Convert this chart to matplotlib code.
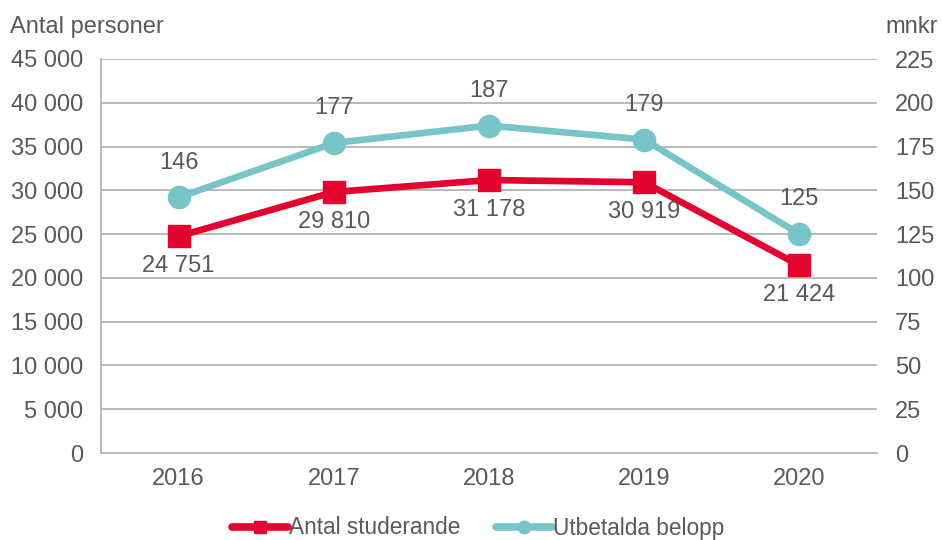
import matplotlib
matplotlib.use("Agg")
import matplotlib.pyplot as plt
from matplotlib.lines import Line2D

plt.rcParams['font.family'] = ['Liberation Sans', 'DejaVu Sans']

years = ["2016", "2017", "2018", "2019", "2020"]
studerande = [24751, 29810, 31178, 30919, 21424]
belopp = [146, 177, 187, 179, 125]
left_ticks = [0, 5000, 10000, 15000, 20000, 25000, 30000, 35000, 40000, 45000]
right_ticks = [0, 25, 50, 75, 100, 125, 150, 175, 200, 225]

RED = "#E4032E"
CYAN = "#77C5C9"
TXT = "#595959"
GRID = "#B4B4B4"
FS = 17

def fmt(v):
    return f"{v:,}".replace(",", " ")

fig = plt.figure(figsize=(9.42, 5.40), dpi=100)
ax = fig.add_axes([101/942, 1-453/540, (877-101)/942, (453-59)/540])
ax2 = ax.twinx()

x = list(range(len(years)))
ax.set_xlim(-0.5, len(years)-0.5)
ax.set_ylim(0, 45000)
ax2.set_ylim(0, 225)

ax.set_yticks(left_ticks)
ax.set_yticklabels([fmt(v) for v in left_ticks])
ax2.set_yticks(right_ticks)
ax2.set_yticklabels([str(v) for v in right_ticks])
ax.set_xticks(x)
ax.set_xticklabels(years)

ax.grid(axis='y', color=GRID, linewidth=1.3)
ax.set_axisbelow(True)
for a in (ax, ax2):
    for s in ['top', 'right']:
        a.spines[s].set_visible(False)
ax2.spines['left'].set_visible(False)
ax2.spines['bottom'].set_visible(False)
ax.spines['left'].set_color(GRID)
ax.spines['bottom'].set_color(GRID)
ax.spines['left'].set_linewidth(1.3)
ax.spines['bottom'].set_linewidth(1.3)

ax.tick_params(axis='y', length=0, pad=13, labelsize=FS, labelcolor=TXT)
ax.tick_params(axis='x', length=0, pad=11, labelsize=FS, labelcolor=TXT)
ax2.tick_params(axis='y', length=0, pad=13, labelsize=FS, labelcolor=TXT)

ax2.plot(x, [v/200 for v in studerande], color=RED, linewidth=4.8,
         marker='s', markersize=16.5, solid_capstyle='round', zorder=3)
ax2.plot(x, belopp, color=CYAN, linewidth=4.8, marker='o', markersize=16,
         solid_capstyle='round', zorder=4)

for xi, v in zip(x, studerande):
    ax2.annotate(fmt(v), (xi, v/200), xytext=(0, -21.5), textcoords='offset points',
                 ha='center', va='center', fontsize=FS, color=TXT)
for xi, v in zip(x, belopp):
    ax2.annotate(str(v), (xi, v), xytext=(0, 25), textcoords='offset points',
                 ha='center', va='center', fontsize=FS, color=TXT)

fig.text(10/942, 1-27/540, "Antal personer", ha='left', va='center', fontsize=FS, color=TXT)
fig.text(938/942, 1-27/540, "mnkr", ha='right', va='center', fontsize=FS, color=TXT)

handles = [
    Line2D([], [], color=RED, linewidth=5.5, marker='s', markersize=9, solid_capstyle='round'),
    Line2D([], [], color=CYAN, linewidth=5.5, marker='o', markersize=9, solid_capstyle='round'),
]
leg = fig.legend(handles, ["Antal studerande", "Utbetalda belopp"], loc='center',
                 bbox_to_anchor=(478/942, 1-528/540), ncol=2, frameon=False, fontsize=16.3,
                 handlelength=2.5, handletextpad=0.03, columnspacing=1.55, labelcolor=TXT,
                 borderpad=0)

fig.savefig("out.png", dpi=100)
